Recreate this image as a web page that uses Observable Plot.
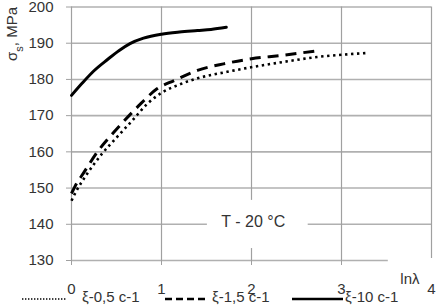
<!DOCTYPE html>
<html>
<head>
<meta charset="utf-8">
<script src="https://cdn.jsdelivr.net/npm/d3@7"></script>
<script src="https://cdn.jsdelivr.net/npm/@observablehq/plot@0.6"></script>
<style>
  html, body { margin: 0; padding: 0; background: #fff; }
  #wrap { position: relative; width: 439px; height: 307px; font-family: "Liberation Sans", Arial, sans-serif; }
  #legend { position: absolute; left: 0; top: 288px; width: 439px; height: 18px; font-size: 15px; color: #333; }
  .item { position: absolute; top: 0; height: 18px; line-height: 18px; white-space: nowrap; display: flex; align-items: center; }
  .item svg { display: block; }
</style>
</head>
<body>
<div id="wrap"></div>
<script>
// ---- data ----
const xTicks = [0, 1, 2, 3, 4];
const yTicks = [130, 140, 150, 160, 170, 180, 190, 200];
const seriesNames = ["ξ-0,5 c-1", "ξ-1,5 c-1", "ξ-10 c-1"];

const lnLambda05 = [0, 0.05, 0.17, 0.34, 0.51, 0.67, 0.84, 1.0, 1.2, 1.4, 1.73, 2.1, 2.4, 2.73, 3.0, 3.28];
const sigma05    = [146.5, 149, 153.8, 159.5, 164.2, 168.5, 173.2, 176.3, 178.6, 180.3, 182.1, 183.8, 185, 186.2, 186.8, 187.3];

const lnLambda15 = [0, 0.04, 0.14, 0.3, 0.47, 0.64, 0.77, 0.95, 1.14, 1.4, 1.69, 2.0, 2.32, 2.73];
const sigma15    = [148.5, 150.5, 154.4, 160.4, 165.4, 170, 173.3, 177.4, 179.7, 182.5, 184.3, 185.7, 186.6, 187.9];

const lnLambda10 = [0, 0.12, 0.25, 0.4, 0.53, 0.65, 0.8, 1.0, 1.2, 1.4, 1.55, 1.72];
const sigma10    = [175.6, 179, 182.4, 185.5, 188, 189.9, 191.4, 192.5, 193.1, 193.5, 193.8, 194.4];

const yLabel = "σs, MPa";
const xLabel = "lnλ";
const noteText = "T - 20 °C";
const noteAt = {x: 2.02, y: 140.8};
const noteBox = {x1: 1.51, x2: 2.63, y1: 133.3, y2: 146.6};
const xLabelAt = {x: 3.76, y: 130};
const xLabelBox = {x1: 3.52, x2: 4.4, y1: 124, y2: 130.55};

// ---- build table ----
const rows = [];
[[lnLambda05, sigma05], [lnLambda15, sigma15], [lnLambda10, sigma10]].forEach(([xs, ys], i) => {
  xs.forEach((x, j) => rows.push({series: seriesNames[i], x, y: ys[j]}));
});
const styles = {
  [seriesNames[0]]: {strokeWidth: 2.6, strokeDasharray: "2.4,3.6", strokeLinecap: "butt"},
  [seriesNames[1]]: {strokeWidth: 3, strokeDasharray: "11,7", strokeLinecap: "butt"},
  [seriesNames[2]]: {strokeWidth: 3}
};

const chart = Plot.plot({
  width: 439,
  height: 307,
  marginLeft: 71,
  marginRight: 8,
  marginTop: 6.5,
  marginBottom: 47,
  style: {fontFamily: "'Liberation Sans', Arial, sans-serif", fontSize: "15px", color: "#333", background: "#fff", overflow: "visible"},
  x: {domain: [0, 4], label: null},
  y: {domain: [130, 200], label: null},
  marks: [
    Plot.ruleY(yTicks, {x1: 0, x2: 4, stroke: "#b0b0b0", strokeWidth: 1.6, strokeOpacity: 1}),
    Plot.ruleX(xTicks, {y1: 130, y2: 200, stroke: "#a0a0a0", strokeWidth: 1.2, strokeOpacity: 1}),
    Plot.axisY({ticks: yTicks, tickSize: 5, tickPadding: 13, tickFormat: d => String(d), stroke: "#a0a0a0", strokeOpacity: 1, fill: "#333", label: null}),
    Plot.axisX({ticks: xTicks, tickSize: 5, tickPadding: 18, tickFormat: d => String(d), stroke: "#a0a0a0", strokeOpacity: 1, fill: "#333", label: null}),
    Plot.rect([noteBox], {x1: "x1", x2: "x2", y1: "y1", y2: "y2", fill: "white", clip: false}),
    Plot.rect([xLabelBox], {x1: "x1", x2: "x2", y1: "y1", y2: "y2", fill: "white", clip: false}),
    Plot.text([noteText], {x: noteAt.x, y: noteAt.y, fontSize: 16, fill: "#333"}),
    Plot.text([xLabel], {x: xLabelAt.x, y: xLabelAt.y, dy: 19, fontSize: 15, fill: "#333"}),
    Plot.text([yLabel], {frameAnchor: "top-left", fontSize: 15, fill: "#333", className: "ylab"}),
    ...seriesNames.map(name => Plot.line(rows.filter(d => d.series === name), {
      x: "x", y: "y", stroke: "black", curve: "monotone-x", ...styles[name]
    }))
  ]
});

// y label: rotate, with subscript
d3.select(chart).selectAll("g.ylab").attr("transform", null);
d3.select(chart).selectAll(".ylab text").each(function() {
  const t = d3.select(this);
  t.text(null)
    .attr("x", null).attr("y", null).attr("dx", null)
    .attr("dy", "0.32em")
    .attr("text-anchor", "middle")
    .attr("transform", "translate(12,34) rotate(-90)");
  t.append("tspan").text("σ");
  t.append("tspan").attr("baseline-shift", "sub").attr("font-size", 11).text("s");
  t.append("tspan").text(", MPa");
});

const wrap = document.getElementById("wrap");
wrap.appendChild(chart);

// legend
const legendItems = [
  {name: seriesNames[0], left: 22, len: 45, gap: 15, width: 1.4, dash: "1.4,1.6"},
  {name: seriesNames[1], left: 165, len: 42, gap: 5, width: 2.4, dash: "7,4"},
  {name: seriesNames[2], left: 292, len: 51, gap: 2, width: 2.4, dash: null}
];
const legend = d3.select(wrap).append("div").attr("id", "legend");
legendItems.forEach(it => {
  const item = legend.append("div").attr("class", "item").style("left", it.left + "px");
  const s = item.append("svg").attr("width", it.len).attr("height", 18);
  const ln = s.append("line").attr("x1", 0).attr("x2", it.len).attr("y1", 11).attr("y2", 11)
    .attr("stroke", "black").attr("stroke-width", it.width);
  if (it.dash) ln.attr("stroke-dasharray", it.dash);
  item.append("span").style("margin-left", it.gap + "px").text(it.name);
});
</script>
</body>
</html>
